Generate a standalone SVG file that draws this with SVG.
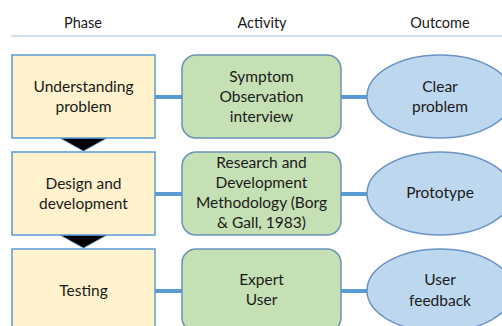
<svg xmlns="http://www.w3.org/2000/svg" width="502" height="326" viewBox="0 0 502 326">
  <style>
    text { font-family: Lato, "Open Sans", "Liberation Sans", sans-serif; fill: #1a1a1a; text-anchor: middle; }
    .head { font-size: 14.5px; }
    .lbl { font-size: 15.5px; }
    .phase { fill: #FFF2CC; stroke: #5B9BD5; stroke-width: 1.5; }
    .act { fill: #C5E0B4; stroke: #6C93B6; stroke-width: 1.5; }
    .out { fill: #BDD7EE; stroke: #6A92C2; stroke-width: 1.5; }
    .link { stroke: #5B9BD5; stroke-width: 4; fill: none; }
    .step { fill: #000000; stroke: #5B9BD5; stroke-width: 0.8; }
  </style>

  <rect width="502" height="326" fill="#ffffff"/>

  <!-- column headers -->
  <g id="headers">
    <text class="head" x="83" y="28">Phase</text>
    <text class="head" x="262" y="28">Activity</text>
    <text class="head" x="440" y="28">Outcome</text>
    <line x1="11" y1="36" x2="502" y2="36" stroke="#9DC3E6" stroke-width="1.2"/>
  </g>

  <!-- connectors -->
  <g id="connectors">
    <line class="link" x1="155" y1="97" x2="182" y2="97"/>
    <line class="link" x1="341" y1="97" x2="367" y2="97"/>
    <line class="link" x1="155" y1="194" x2="182" y2="194"/>
    <line class="link" x1="341" y1="194" x2="367" y2="194"/>
    <line class="link" x1="155" y1="291" x2="182" y2="291"/>
    <line class="link" x1="341" y1="291" x2="367" y2="291"/>
    <polygon class="step" points="60,138 107,138 83.5,151"/>
    <polygon class="step" points="60,235 107,235 83.5,248"/>
  </g>

  <!-- phases -->
  <g id="phase-understanding">
    <rect class="phase" x="12" y="55" width="143" height="83"/>
    <text class="lbl" x="83.5" y="92">Understanding</text>
    <text class="lbl" x="83.5" y="112">problem</text>
  </g>
  <g id="phase-design">
    <rect class="phase" x="12" y="152" width="143" height="83"/>
    <text class="lbl" x="83.5" y="189">Design and</text>
    <text class="lbl" x="83.5" y="209">development</text>
  </g>
  <g id="phase-testing">
    <rect class="phase" x="12" y="249" width="143" height="83"/>
    <text class="lbl" x="83.5" y="296">Testing</text>
  </g>

  <!-- activities -->
  <g id="activity-observation">
    <rect class="act" x="182" y="55" width="159" height="83" rx="14"/>
    <text class="lbl" x="261.5" y="82">Symptom</text>
    <text class="lbl" x="261.5" y="102">Observation</text>
    <text class="lbl" x="261.5" y="122">interview</text>
  </g>
  <g id="activity-rnd">
    <rect class="act" x="182" y="152" width="159" height="83" rx="14"/>
    <text class="lbl" x="261.5" y="168">Research and</text>
    <text class="lbl" x="261.5" y="188">Development</text>
    <text class="lbl" x="261.5" y="208">Methodology (Borg</text>
    <text class="lbl" x="261.5" y="228">&amp; Gall, 1983)</text>
  </g>
  <g id="activity-expert">
    <rect class="act" x="182" y="249" width="159" height="83" rx="14"/>
    <text class="lbl" x="261.5" y="285">Expert</text>
    <text class="lbl" x="261.5" y="305">User</text>
  </g>

  <!-- outcomes -->
  <g id="outcome-clear">
    <ellipse class="out" cx="440" cy="96.5" rx="73" ry="41.5"/>
    <text class="lbl" x="440" y="92">Clear</text>
    <text class="lbl" x="440" y="112">problem</text>
  </g>
  <g id="outcome-prototype">
    <ellipse class="out" cx="440" cy="193.5" rx="73" ry="41.5"/>
    <text class="lbl" x="440" y="198">Prototype</text>
  </g>
  <g id="outcome-feedback">
    <ellipse class="out" cx="440" cy="290.5" rx="73" ry="41.5"/>
    <text class="lbl" x="440" y="285">User</text>
    <text class="lbl" x="440" y="306">feedback</text>
  </g>
</svg>
